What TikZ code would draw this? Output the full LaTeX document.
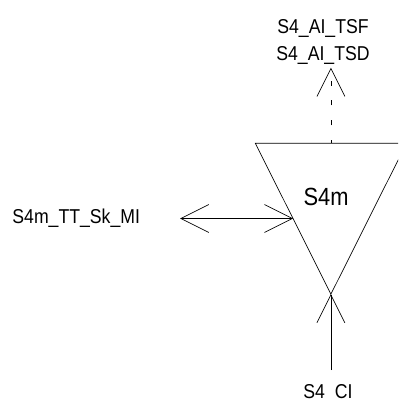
\documentclass[tikz,border=0pt]{standalone}
\usepackage{fontspec}
\setmainfont[FakeStretch=0.88]{Liberation Sans}
\usetikzlibrary{positioning, arrows.meta}

\begin{document}
\begin{tikzpicture}[>={Straight Barb[length=0.74cm, width=0.74cm]}, on grid, line width=0.5pt,
    sig/.style={font=\fontsize{15.1}{18}\selectfont, inner sep=0pt},
    blockname/.style={font=\fontsize{18.7}{22}\selectfont, inner sep=0pt}]

    \clip (-8.626,-5.451) rectangle (1.905,5.212);

    \node[blockname] (S4m) at (0,0) {S4m};

    \coordinate[below right=2.57cm and 0.13cm of S4m] (apex);
    \coordinate[above left=3.99cm and 2cm of apex] (topL);
    \coordinate[above right=3.99cm and 2cm of apex] (topR);
    \coordinate[above=3.99cm of apex] (topM);
    \coordinate[above left=2cm and 1cm of apex] (side);

    \coordinate[above=2cm of topM] (aiTip);
    \node[sig] (TSD) [above left=0.32cm and 0.21cm of aiTip, anchor=center] {S4\_AI\_TSD};
    \node[sig] (TSF) [above=0.73cm of TSD, anchor=center] {S4\_AI\_TSF};

    \coordinate[left=2.99cm of side] (skTip);
    \node[sig] (MI) [left=5.74cm of side, anchor=center] {S4m\_TT\_Sk\_MI};

    \coordinate[below=2.01cm of apex] (ciEnd);
    \node[sig] (CI) [below left=2.62cm and 0.08cm of apex, anchor=center] {S4\phantom{\_}CI};

    \draw (topL) -- (topR) -- (apex) -- cycle;
    \draw[->, dash pattern=on 3.75pt off 11.25pt, dash phase=1.5pt] (topM) -- (aiTip);
    \draw[<->] (skTip) -- (side);
    \draw[->] (ciEnd) -- (apex);

\end{tikzpicture}
\end{document}
